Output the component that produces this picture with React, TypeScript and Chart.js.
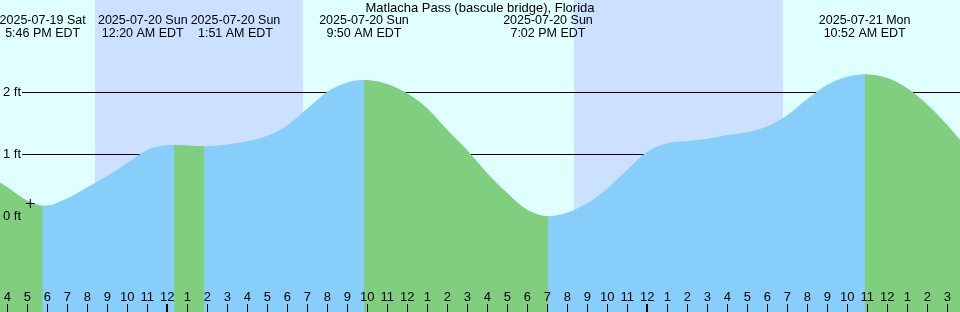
import React, { useEffect, useRef } from 'react';
import { Chart, registerables } from 'chart.js';

Chart.register(...registerables);

const TITLE = 'Matlacha Pass (bascule bridge), Florida';

// x values: hours relative to 2025-07-20 00:00 EDT; y values: feet
const X_MIN = -8.365;
const X_MAX = 39.635;
const Y_MIN = -1.544;
const Y_MAX = 3.489;
const HOUR_AXIS_AT = -1.415;

const tideHours = [
  -8.365, -8, -7, -6.233, -6, -5, -4, -3, -2, -1, -0.5, 0, 0.333, 1, 1.85, 2, 3, 4, 5, 6, 7, 8, 9,
  9.833, 10, 11, 12, 13, 14, 15, 16, 17, 18, 19.033, 20, 21, 22, 23, 24, 25, 26, 27, 28, 29,
  30, 31, 32, 33, 34, 34.867, 35, 36, 37, 38, 39, 39.635,
];
const tideFeet = [
  0.54, 0.47, 0.25, 0.17, 0.172, 0.29, 0.47, 0.65, 0.86, 1.07, 1.12, 1.145, 1.15, 1.14, 1.13, 1.131,
  1.16, 1.21, 1.3, 1.47, 1.74, 2.01, 2.16, 2.2, 2.198, 2.13, 1.98, 1.74, 1.39, 1.06, 0.69, 0.37,
  0.1, 0.0, 0.06, 0.21, 0.45, 0.75, 1.04, 1.18, 1.21, 1.25, 1.31, 1.36, 1.45, 1.63, 1.89, 2.12,
  2.25, 2.29, 2.289, 2.23, 2.06, 1.8, 1.47, 1.23,
];

const eventHours = [-6.233, 0.333, 1.85, 9.833, 19.033, 34.867];
const eventKinds = ['low', 'high', 'low', 'high', 'low', 'high'];
const eventDates = [
  '2025-07-19 Sat',
  '2025-07-20 Sun',
  '2025-07-20 Sun',
  '2025-07-20 Sun',
  '2025-07-20 Sun',
  '2025-07-21 Mon',
];
const eventClock = ['5:46 PM EDT', '12:20 AM EDT', '1:51 AM EDT', '9:50 AM EDT', '7:02 PM EDT', '10:52 AM EDT'];

const nightStarts = [-3.615, 20.335];
const nightEnds = [6.785, 30.785];

const nowHour = [-6.85];
const nowFeet = [0.206];

const yTickValues = [0, 1, 2];
const hourTickValues: number[] = [];
for (let h = Math.ceil(X_MIN); h <= Math.floor(X_MAX); h++) hourTickValues.push(h);

const DAY = '#e0ffff';
const NIGHT = '#cce0ff';
const FLOOD = '#87cefa';
const EBB = '#7fcf7f';
const CLEAR = 'rgba(0,0,0,0)';
const FAMILY = '"Liberation Sans", Arial, sans-serif';
const FONT_SIZE = 13;
const EVENT_FONT_SIZE = 12.5;

const hourLabel = (v: number) => {
  const hr = ((Math.round(v) % 24) + 24) % 24;
  return String(hr % 12 === 0 ? 12 : hr % 12);
};

const isFalling = (x: number) => {
  let prev = -1;
  for (let i = 0; i < eventHours.length; i++) if (eventHours[i] <= x + 1e-9) prev = i;
  if (prev >= 0) return eventKinds[prev] === 'high';
  return eventKinds[0] === 'low';
};

const zeroPadding = (s: any) => {
  s.paddingLeft = 0;
  s.paddingRight = 0;
  s.paddingTop = 0;
  s.paddingBottom = 0;
};

const nightPlugin = {
  id: 'nightBands',
  beforeDraw(chart: any) {
    const xs = chart.scales.x;
    const { top, bottom } = chart.chartArea;
    const ctx = chart.ctx;
    ctx.save();
    ctx.fillStyle = NIGHT;
    for (let i = 0; i < nightStarts.length; i++) {
      const a = xs.getPixelForValue(nightStarts[i]);
      const b = xs.getPixelForValue(nightEnds[i]);
      ctx.fillRect(a, top, b - a, bottom - top);
    }
    ctx.restore();
  },
};

const titlePlugin = {
  id: 'tideTitle',
  afterDraw(chart: any) {
    const ctx = chart.ctx;
    ctx.save();
    ctx.font = `${FONT_SIZE}px ${FAMILY}`;
    ctx.fillStyle = '#000';
    ctx.textAlign = 'center';
    ctx.textBaseline = 'middle';
    ctx.fillText(TITLE, (chart.chartArea.left + chart.chartArea.right) / 2, 8);
    ctx.restore();
  },
};

const tidePoints = () => tideHours.map((h, i) => ({ x: h, y: tideFeet[i] }));

export default function App() {
  const ref = useRef<HTMLCanvasElement>(null);
  useEffect(() => {
    document.body.style.margin = '0';
    const canvas = ref.current!;
    const chart = new Chart(canvas, {
      type: 'line',
      data: {
        datasets: [
          {
            type: 'line',
            data: nowHour.map((h, i) => ({ x: h, y: nowFeet[i] })),
            showLine: false,
            pointStyle: 'cross',
            pointRadius: 4.5,
            pointBorderColor: '#000',
            pointBorderWidth: 1,
            pointBackgroundColor: '#000',
            order: 0,
          },
          {
            // falling (ebb) parts, drawn over the rising fill
            type: 'line',
            data: tidePoints(),
            fill: 'start',
            backgroundColor: EBB,
            borderColor: CLEAR,
            borderWidth: 0,
            pointRadius: 0,
            cubicInterpolationMode: 'monotone',
            segment: {
              backgroundColor: (c: any) => (isFalling(c.p0.parsed.x) ? EBB : CLEAR),
            },
            order: 1,
          },
          {
            // whole tide area in the rising (flood) colour
            type: 'line',
            data: tidePoints(),
            fill: 'start',
            backgroundColor: FLOOD,
            borderColor: CLEAR,
            borderWidth: 0,
            pointRadius: 0,
            cubicInterpolationMode: 'monotone',
            order: 2,
          },
        ],
      },
      options: {
        responsive: false,
        animation: false,
        events: [],
        layout: { padding: 0, autoPadding: false },
        plugins: {
          legend: { display: false },
          tooltip: { enabled: false },
          title: { display: false },
        },
        scales: {
          x: { type: 'linear', min: X_MIN, max: X_MAX, display: false },
          y: {
            type: 'linear',
            min: Y_MIN,
            max: Y_MAX,
            position: 'left',
            afterBuildTicks: (s: any) => {
              s.ticks = yTickValues.map((v) => ({ value: v }));
            },
            afterFit: (s: any) => {
              s.width = 0;
              zeroPadding(s);
            },
            border: { display: false },
            grid: {
              z: -1,
              drawTicks: false,
              lineWidth: 1,
              color: (c: any) => (c.tick && c.tick.value === 0 ? CLEAR : '#000'),
            },
            ticks: {
              z: 1,
              mirror: true,
              padding: 3,
              color: '#000',
              font: { family: FAMILY, size: FONT_SIZE },
              callback: (v: any) => `${v} ft`,
              showLabelBackdrop: (c: any) => !(c.tick && c.tick.value === 0),
              backdropColor: DAY,
              backdropPadding: { left: 3, right: 1, top: 0, bottom: 0 },
            },
          },
          xHours: {
            type: 'linear',
            axis: 'x',
            min: X_MIN,
            max: X_MAX,
            position: { y: HOUR_AXIS_AT },
            afterBuildTicks: (s: any) => {
              s.ticks = hourTickValues.map((v) => ({ value: v }));
            },
            afterFit: zeroPadding,
            border: { display: false },
            grid: {
              z: 1,
              drawOnChartArea: false,
              drawTicks: true,
              tickLength: 8,
              color: '#000',
              tickColor: '#000',
              lineWidth: (c: any) => (c.tick && c.tick.value % 24 === 0 ? 2 : 1),
              tickWidth: (c: any) => (c.tick && c.tick.value % 24 === 0 ? 2 : 1),
            },
            ticks: {
              z: 1,
              autoSkip: false,
              maxRotation: 0,
              minRotation: 0,
              padding: -22,
              color: '#000',
              font: { family: FAMILY, size: FONT_SIZE },
              callback: (v: any) => hourLabel(Number(v)),
            },
          },
          xEvents: {
            type: 'linear',
            axis: 'x',
            min: X_MIN,
            max: X_MAX,
            position: { y: Y_MAX },
            afterBuildTicks: (s: any) => {
              const ctx = s.ctx;
              ctx.save();
              ctx.font = `${EVENT_FONT_SIZE}px ${FAMILY}`;
              let w = 0;
              for (const d of eventDates) w = Math.max(w, ctx.measureText(d).width);
              ctx.restore();
              const pxPerHour = s.chart.width / (X_MAX - X_MIN);
              const minGap = (w + 1) / pxPerHour;
              const vals = eventHours.slice();
              for (let i = 1; i < vals.length; i++) {
                if (vals[i] - vals[i - 1] < minGap) {
                  const mid = (vals[i] + vals[i - 1]) / 2;
                  vals[i - 1] = mid - minGap / 2;
                  vals[i] = mid + minGap / 2;
                }
              }
              s.ticks = vals.map((v) => ({ value: v }));
            },
            afterFit: zeroPadding,
            border: { display: false },
            grid: { display: false, drawOnChartArea: false, drawTicks: false },
            ticks: {
              z: 1,
              autoSkip: false,
              maxRotation: 0,
              minRotation: 0,
              padding: 14.5,
              color: '#000',
              font: { family: FAMILY, size: EVENT_FONT_SIZE, lineHeight: '12.4px' },
              callback: (_v: any, i: number) => [eventDates[i], eventClock[i]],
            },
          },
        },
      } as any,
      plugins: [nightPlugin, titlePlugin],
    } as any);
    return () => chart.destroy();
  }, []);
  return (
    <div style={{ position: 'fixed', left: 0, top: 0, width: 960, height: 312 }}>
      <canvas
        ref={ref}
        width={960}
        height={312}
        style={{ display: 'block', width: 960, height: 312, background: DAY }}
      />
    </div>
  );
}
